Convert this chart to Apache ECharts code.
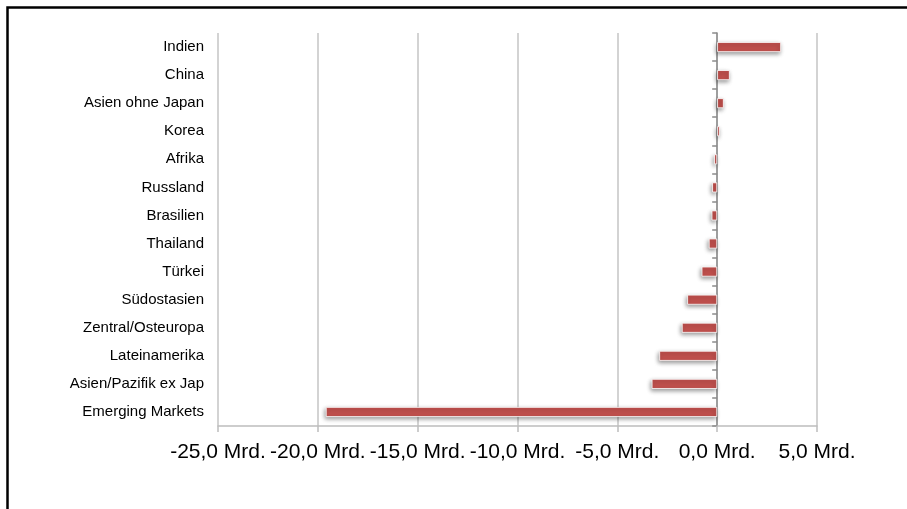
<!DOCTYPE html>
<html>
<head>
<meta charset="utf-8">
<script src="https://cdn.jsdelivr.net/npm/echarts@6/dist/echarts.min.js"></script>
<style>
  html, body { margin: 0; padding: 0; background: #fff; }
  #chart { width: 907px; height: 509px; }
</style>
</head>
<body>
<div id="chart"></div>
<script>
// Fund flows by region, in billions (Mrd.)
const categories = [
  'Indien', 'China', 'Asien ohne Japan', 'Korea', 'Afrika', 'Russland',
  'Brasilien', 'Thailand', 'Türkei', 'Südostasien', 'Zentral/Osteuropa',
  'Lateinamerika', 'Asien/Pazifik ex Jap', 'Emerging Markets'
];
const flows = [3.2, 0.63, 0.33, 0.13, -0.15, -0.25, -0.28, -0.42, -0.78, -1.5, -1.77, -2.9, -3.28, -19.6];
const tickValues = [-25, -20, -15, -10, -5, 0, 5];
const tickSuffix = ' Mrd.';

function fmtTick(v) {
  return v.toFixed(1).replace('.', ',') + tickSuffix;
}

const chart = echarts.init(document.getElementById('chart'), null, { renderer: 'canvas' });

const FONT = '"Liberation Sans", Arial, sans-serif';

chart.setOption({
  animation: false,
  backgroundColor: '#ffffff',
  graphic: [{
    type: 'rect',
    left: 5, top: 5,
    shape: { width: 1000, height: 1000 },
    style: { fill: 'none', stroke: '#000', lineWidth: 2.5 },
    silent: true
  }],
  grid: { left: 218, right: 90, top: 33, bottom: 83 },
  xAxis: {
    type: 'value',
    min: tickValues[0],
    max: tickValues[tickValues.length - 1],
    interval: 5,
    axisLine: { show: true, onZero: false, lineStyle: { color: '#bdbdbd', width: 1.5 } },
    axisTick: { show: true, length: 6, lineStyle: { color: '#bdbdbd', width: 1.5 } },
    splitLine: { show: true, lineStyle: { color: '#c4c4c4', width: 1.5 } },
    axisLabel: {
      color: '#000', fontFamily: FONT, fontSize: 21, margin: 16,
      formatter: fmtTick
    }
  },
  yAxis: [{
    // category labels at the left edge of the plot
    type: 'category',
    data: categories,
    inverse: true,
    axisLine: { show: false, onZero: false },
    axisTick: { show: false },
    axisLabel: { color: '#000', fontFamily: FONT, fontSize: 15, margin: 14 }
  }, {
    // zero line with tick marks between categories
    type: 'category',
    data: categories,
    inverse: true,
    position: 'left',
    axisLine: { show: true, onZero: true, lineStyle: { color: '#8c8c8c', width: 1.5 } },
    axisTick: { show: true, length: 5, lineStyle: { color: '#8c8c8c', width: 1.5 } },
    axisLabel: { show: false }
  }],
  series: [{
    type: 'bar',
    data: flows,
    yAxisIndex: 0,
    barWidth: 10,
    itemStyle: {
      color: '#C0504D',
      borderColor: '#ffffff',
      borderWidth: 0.8,
      shadowBlur: 4,
      shadowOffsetX: -1,
      shadowOffsetY: 2,
      shadowColor: 'rgba(0,0,0,0.4)'
    }
  }]
});
</script>
</body>
</html>
